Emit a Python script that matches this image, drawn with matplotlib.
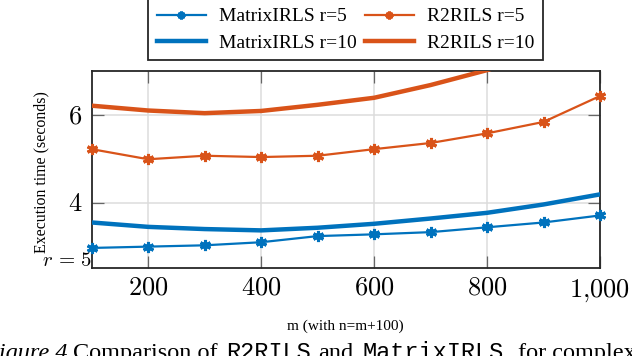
import matplotlib.pyplot as plt
from matplotlib.ticker import FixedLocator, FixedFormatter

plt.rcParams['mathtext.fontset'] = 'cm'
plt.rcParams['font.family'] = ['Liberation Serif', 'DejaVu Serif']

# Data
m_values = [100, 200, 300, 400, 500, 600, 700, 800, 900, 1000]
matrixirls_r5 = [2.97, 3.00, 3.03, 3.10, 3.24, 3.28, 3.33, 3.44, 3.55, 3.71]
matrixirls_r10 = [3.55, 3.45, 3.40, 3.37, 3.43, 3.52, 3.64, 3.77, 3.96, 4.19]
r2rils_r5 = [5.22, 4.99, 5.07, 5.04, 5.07, 5.22, 5.36, 5.58, 5.84, 6.43]
r2rils_r10 = [6.21, 6.10, 6.04, 6.09, 6.23, 6.39, 6.68, 7.02, 7.45, 7.95]

x_ticks = [200, 400, 600, 800, 1000]
x_tick_labels = ['$200$', '$400$', '$600$', '$800$', '$1{,}000$']
y_ticks = [4, 6]
y_tick_labels = ['$4$', '$6$']

blue = '#0072BD'
orange = '#D95319'
star = (6, 2, 0)

fig = plt.figure(figsize=(6.32, 3.56), dpi=100)
ax = fig.add_axes([91.7 / 632, 1 - 267.7 / 356, (600 - 91.7) / 632, (267.7 - 71) / 356])

# column-major order so the 2-column legend reads row by row
ax.plot(m_values, matrixirls_r5, color=blue, lw=1.6, marker=star, ms=8, mew=2.2,
        label='MatrixIRLS r=5', clip_on=False, zorder=3)
ax.plot(m_values, matrixirls_r10, color=blue, lw=3.2, label='MatrixIRLS r=10', zorder=3)
ax.plot(m_values, r2rils_r5, color=orange, lw=1.6, marker=star, ms=8, mew=2.2,
        label='R2RILS r=5', clip_on=False, zorder=3)
ax.plot(m_values, r2rils_r10, color=orange, lw=3.2, label='R2RILS r=10', zorder=3)

ax.set_xlim(100, 1000)
ax.set_ylim(2.52, 7.0)
ax.xaxis.set_major_locator(FixedLocator(x_ticks))
ax.xaxis.set_major_formatter(FixedFormatter(x_tick_labels))
ax.yaxis.set_major_locator(FixedLocator(y_ticks))
ax.yaxis.set_major_formatter(FixedFormatter(y_tick_labels))
ax.tick_params(direction='in', length=8.5, width=0.9, color='#666666',
               top=True, right=True, labelsize=19, pad=7)
ax.grid(True, color='#dcdcdc', lw=1.1)
ax.set_axisbelow(True)
for sp in ax.spines.values():
    sp.set_color('#262626')
    sp.set_linewidth(1.3)

leg = ax.legend(ncol=2, loc='upper center', bbox_to_anchor=(0.5, 1.366),
                borderaxespad=0, fontsize=14, handlelength=2.5, handletextpad=0.7,
                columnspacing=0.4, labelspacing=0.45, borderpad=0.45,
                numpoints=1, markerscale=0.7, fancybox=False, framealpha=1)
leg.get_frame().set_edgecolor('#262626')
leg.get_frame().set_linewidth(1.3)

fig.text(41.7 / 632, 1 - 172 / 356, 'Execution time (seconds)', rotation=90,
         ha='center', va='center', fontsize=11.4)
fig.text(345 / 632, 1 - 326 / 356, 'm (with n=m+100)', ha='center', va='center', fontsize=11)
fig.text(92 / 632, 1 - 262 / 356, '$r\\,=\\,5$', ha='right', va='center', fontsize=15)

# caption, cut off at the bottom of the picture as in the reference
cap_y = 1 - 359 / 356
fig.text(-16 / 632, cap_y, 'Figure 4.', style='italic', fontsize=17.5, va='baseline')
fig.text(73 / 632, cap_y, 'Comparison of', fontsize=17.5, va='baseline')
fig.text(226 / 632, cap_y, 'R2RILS', family='Liberation Mono', fontsize=17, va='baseline')
fig.text(318 / 632, cap_y, 'and', fontsize=17.5, va='baseline')
fig.text(363 / 632, cap_y, 'MatrixIRLS', family='Liberation Mono', fontsize=17, va='baseline')
fig.text(518 / 632, cap_y, 'for complex', fontsize=17.5, va='baseline')

fig.savefig('out.png', dpi=100)
